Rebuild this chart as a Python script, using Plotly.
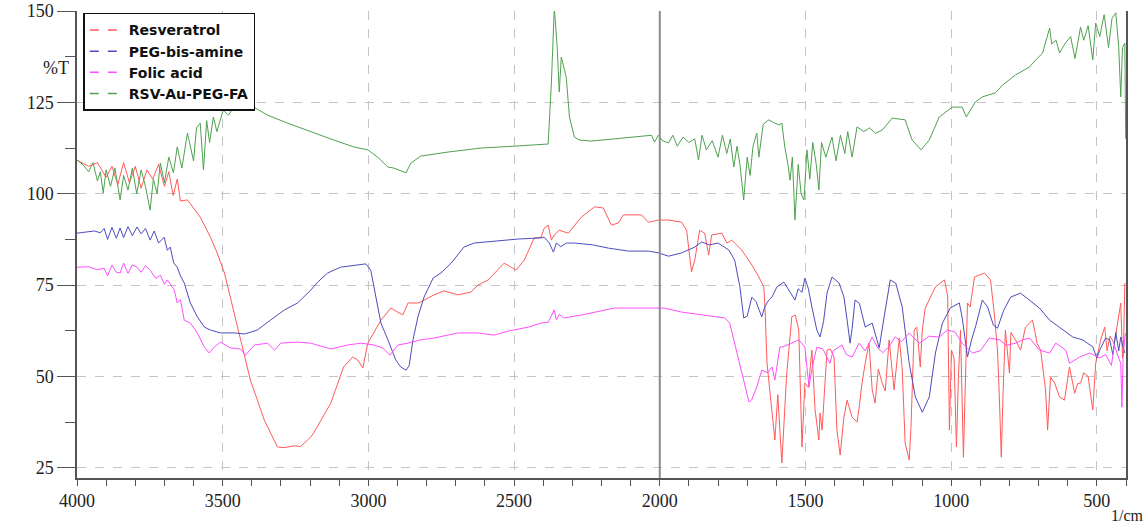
import plotly.graph_objects as go

# FTIR spectra, wavenumber (1/cm) and transmittance (%T)
rsv_wn = [4000, 3960, 3930, 3900, 3880, 3860, 3840, 3820, 3800, 3780, 3760, 3740, 3720, 3700, 3685,
          3670, 3656, 3645, 3621, 3600, 3577, 3542, 3520, 3494, 3450, 3405, 3357, 3312, 3290, 3253,
          3233, 3198, 3188, 3160, 3129, 3085, 3054, 3037, 3019, 3002, 2957, 2923, 2882, 2864, 2827,
          2775, 2741, 2692, 2648, 2624, 2589, 2534, 2493, 2465, 2431, 2407, 2397, 2383, 2372, 2362,
          2345, 2314, 2269, 2224, 2194, 2166, 2142, 2125, 2063, 2039, 2004, 1970, 1925, 1908, 1891,
          1880, 1863, 1846, 1832, 1822, 1787, 1770, 1753, 1719, 1684, 1660, 1643, 1639, 1632, 1605,
          1595, 1581, 1565, 1547, 1535, 1523, 1512, 1502, 1490, 1478, 1467, 1454, 1450, 1443, 1426,
          1415, 1402, 1392, 1381, 1368, 1357, 1340, 1330, 1323, 1315, 1306, 1295, 1282, 1271, 1261,
          1250, 1237, 1226, 1213, 1196, 1178, 1168, 1158, 1144, 1138, 1127, 1118, 1106, 1099, 1089,
          1054, 1023, 1012, 1006, 999, 990, 982, 975, 968, 958, 950, 944, 935, 920, 886, 865, 852,
          841, 835, 828, 822, 814, 800, 795, 779, 762, 745, 721, 712, 705, 693, 676, 669, 659, 645,
          628, 611, 594, 576, 566, 556, 545, 530, 514, 504, 487, 473, 465, 455, 440, 430, 418, 412,
          408, 404]
rsv_t = [109.2, 107.5, 108.5, 104.5, 107.5, 102.5, 108.5, 103, 107.5, 101.5, 106.5, 104, 108, 102, 106,
         99.5, 104, 98, 98.3, 96, 93.6, 88.1, 84, 78.3, 63.5, 49, 38, 30.7, 30.5, 31,
         30.8, 33.4, 34.5, 38.5, 42.7, 52.6, 55.3, 54.5, 52.3, 59.1, 65.4, 68.7, 66.8, 70.1, 70.1,
         72.3, 73.4, 72.3, 73.1, 75, 76.4, 81, 79.1, 81.8, 87.9, 88.1, 90.5, 91.4, 87.3, 88.7,
         90, 89.2, 93.6, 96.4, 96.1, 91.4, 92, 94.2, 94.2, 92.2, 92.8, 92.8, 92.2, 90, 78.6,
         81.8, 90, 89.2, 83.2, 88.7, 89.2, 86.5, 87.3, 84.6, 80.5, 77.2, 74.5, 69, 53.6, 32.6,
         45, 26.3, 50, 66.3, 66.8, 62.7, 30.7, 48.2, 47, 57.2, 40.8, 32.6, 40, 35.3, 57.2,
         57.5, 55.3, 35.3, 28.5, 38.9, 43.5, 38.9, 38, 37.5, 42, 48.2, 53.6, 59.1, 46.3, 42.7,
         52, 48.2, 46, 60, 46.3, 60.5, 52, 31.8, 27.1, 36, 62.7, 63.5, 52.6, 62.7, 68.7,
         74.5, 76.4, 72, 35.3, 57.2, 55, 30.7, 50, 62.7, 27.9, 50, 70.1, 69, 77.2, 78.3, 76.4, 67.3,
         57.2, 45, 27.9, 45, 62.7, 50.9, 62, 60, 57.2, 63.5, 65.4, 62, 59, 57.2, 46.3, 35.3, 49.8, 48.2,
         44.4, 43.5, 52.6, 45.4, 48, 48.2, 51, 50, 40.8, 53.6, 60, 63.5, 57, 61, 59, 64, 70.1, 55,
         60, 75.5]

peg_wn = [4000, 3970, 3940, 3920, 3907, 3895, 3880, 3865, 3852, 3840, 3825, 3810, 3794, 3780, 3765,
          3749, 3735, 3720, 3701, 3690, 3680, 3668, 3656, 3645, 3632, 3611, 3587, 3563, 3542, 3508,
          3460, 3425, 3381, 3336, 3288, 3243, 3198, 3174, 3140, 3095, 3037, 3009, 2992, 2975, 2957,
          2933, 2906, 2889, 2871, 2860, 2847, 2830, 2809, 2778, 2751, 2716, 2672, 2637, 2544, 2486,
          2407, 2397, 2379, 2365, 2355, 2340, 2320, 2293, 2230, 2176, 2107, 2039, 2004, 1970, 1925,
          1880, 1856, 1830, 1800, 1763, 1743, 1725, 1712, 1700, 1684, 1670, 1650, 1640, 1626, 1615,
          1598, 1574, 1560, 1536, 1525, 1512, 1502, 1490, 1478, 1461, 1450, 1438, 1426, 1409, 1385,
          1368, 1357, 1347, 1340, 1330, 1315, 1295, 1271, 1247, 1230, 1209, 1190, 1168, 1144, 1123,
          1099, 1075, 1054, 1030, 1003, 972, 962, 944, 930, 915, 893, 875, 855, 841, 820,
          796, 762, 731, 697, 662, 628, 583, 549, 514, 500, 490, 470, 456, 445, 435,
          425, 418, 410, 404]
peg_t = [89.2, 89.5, 89.8, 89.3, 90.5, 87.5, 90.8, 87.8, 90.6, 88, 91, 88.5, 90.9, 89, 90.5,
         87.3, 89.8, 86.5, 88.1, 84.5, 85.4, 81, 79.9, 77.5, 75.6, 70.1, 66.3, 63.5, 62.7, 61.9,
         61.9, 61.6, 62.7, 65.4, 68.2, 70.1, 73.6, 75.8, 78.3, 79.9, 80.5, 80.8, 79.1, 71.7, 64.6,
         60, 54.5, 52.6, 51.7, 53, 60, 66.3, 71.7, 76.9, 78.3, 81, 85.4, 86.5, 87.3, 87.6,
         87.9, 88.1, 86.5, 84, 86.5, 85.5, 86.5, 86.5, 86, 85.1, 84.3, 84.3, 83.8, 82.9, 83.8,
         85.4, 86.8, 86, 86.5, 84.6, 81.8, 74.5, 66, 66.5, 71.7, 70.5, 66.3, 69, 70.9, 71.7,
         74.5, 75.8, 74, 70.9, 74, 73, 76.9, 74, 69, 62.7, 60.8, 65, 72.8, 77.2, 75.6,
         71.7, 65.4, 59.1, 63, 70.9, 70, 63.5, 64.6, 57.8, 66.3, 76.4, 75.5, 69, 53.6, 44.4,
         40.2, 44.4, 56.4, 64.6, 68.7, 70.1, 66, 55.3, 60, 64, 70.9, 69, 64, 63.2, 68,
         71.7, 72.8, 70.9, 68.7, 65.4, 63.5, 60.8, 60, 58.1, 55, 57.2, 60.5, 60, 56, 62,
         57, 60.8, 58, 56.4]

fa_wn = [4000, 3960, 3930, 3907, 3895, 3880, 3865, 3852, 3840, 3825, 3810, 3794, 3780, 3765, 3749,
         3730, 3714, 3700, 3690, 3666, 3656, 3645, 3632, 3611, 3587, 3563, 3546, 3529, 3508, 3474,
         3439, 3422, 3391, 3346, 3322, 3301, 3243, 3198, 3129, 3071, 3026, 2981, 2951, 2926, 2899,
         2864, 2820, 2775, 2692, 2624, 2569, 2520, 2451, 2407, 2383, 2370, 2362, 2355, 2345, 2330,
         2269, 2156, 2039, 1984, 1925, 1856, 1777, 1760, 1743, 1719, 1694, 1685, 1667, 1650, 1630,
         1615, 1605, 1588, 1581, 1550, 1523, 1502, 1488, 1478, 1461, 1440, 1416, 1405, 1375, 1360,
         1340, 1316, 1295, 1271, 1254, 1235, 1215, 1192, 1170, 1144, 1110, 1075, 1041, 1013, 986,
         962, 927, 900, 869, 834, 810, 779, 755, 731, 697, 662, 641, 607, 594, 559,
         525, 490, 470, 450, 440, 425, 418, 414, 410, 404, 400]
fa_t = [79.9, 80, 79.2, 79.6, 77.5, 80.5, 78.5, 78.3, 81, 78.2, 80.5, 79.9, 78.5, 80.3, 79.1,
        76.8, 77.7, 75.2, 76.4, 73.6, 70.1, 71, 65.4, 64.6, 61.9, 58, 56.4, 58, 59.4, 57.8,
        57.5, 55.8, 58.6, 59.1, 57.2, 59.1, 59.4, 59.1, 57.5, 58.6, 59.1, 58.6, 57.8, 55.8, 58.6,
        59.1, 60, 60.5, 61.9, 61.9, 61.3, 62.4, 63.5, 64.6, 64.8, 67, 68.2, 65.5, 67, 66,
        66.8, 68.7, 68.7, 68.7, 67.6, 66.8, 66, 64.6, 59.1, 50.9, 43, 43.5, 47.1, 51.7, 51,
        52.6, 49, 58, 58, 59, 60, 58, 47.1, 52, 58, 57.5, 53.6, 57, 58.6, 56,
        55.3, 59.1, 57, 60.8, 58, 56.5, 58, 60.8, 59.5, 61.9, 59.1, 61, 60.8, 62.7, 62.1,
        59.1, 56.4, 57, 60.5, 60, 58.5, 59.1, 60, 60.5, 57.2, 56.4, 59.1, 57.2, 53.6, 55.3,
        56.4, 55.1, 56, 53, 58.5, 55, 53.6, 41.6, 55, 60.8, 62]

np_wn = [4000, 3980, 3960, 3945, 3930, 3920, 3910, 3900, 3885, 3870, 3852, 3840, 3825, 3810, 3795,
         3780, 3765, 3749, 3738, 3725, 3714, 3700, 3685, 3669, 3656, 3640, 3621, 3600, 3590, 3577,
         3566, 3555, 3545, 3532, 3520, 3498, 3480, 3463, 3440, 3415, 3394, 3346, 3277, 3198, 3119,
         3050, 3002, 2968, 2933, 2912, 2871, 2854, 2820, 2727, 2613, 2500, 2383, 2372, 2362, 2352,
         2345, 2338, 2321, 2310, 2293, 2276, 2235, 2156, 2087, 2039, 2028, 2018, 2005, 1990, 1970,
         1955, 1940, 1920, 1900, 1880, 1867, 1855, 1840, 1820, 1800, 1785, 1770, 1758, 1746, 1735,
         1725, 1712, 1700, 1690, 1680, 1667, 1660, 1645, 1626, 1610, 1591, 1581, 1571, 1560, 1553,
         1545, 1536, 1525, 1515, 1505, 1495, 1485, 1475, 1463, 1454, 1445, 1430, 1409, 1395, 1380,
         1365, 1355, 1340, 1323, 1300, 1280, 1260, 1237, 1202, 1158, 1134, 1103, 1075, 1041, 996,
         962, 948, 917, 893, 848, 824, 779, 731, 710, 686, 676, 662, 655, 640, 628,
         610, 590, 575, 556, 545, 530, 514, 504, 490, 475, 460, 448, 435, 425, 418,
         412, 404, 401]
np_t = [109.2, 108, 106, 108.5, 103.5, 106, 100.2, 106.5, 102, 107, 98.3, 105, 101, 107, 100,
        106.5, 102, 95.5, 104, 100, 108.4, 103, 110, 105.7, 112.8, 107, 116.6, 109, 118, 119.3,
        106.5, 120, 114, 121, 117, 122.9, 121.5, 123.7, 123.2, 124, 123.7, 121.5, 119.3, 116.9, 114.7,
        112.8, 112, 110, 107.3, 107, 105.7, 108.4, 110.3, 111.4, 112.5, 113, 113.6, 130.3, 151, 140,
        127.8, 137.4, 131.9, 121, 115.5, 114.7, 114.4, 115, 115.5, 115.8, 116, 114.1, 116, 114.5, 113.9,
        116, 113, 115.5, 114, 115, 109.2, 116, 112, 114.5, 110, 116, 111, 115, 107.3, 113,
        108, 98.3, 110, 105, 113, 116.6, 110, 119, 120.2, 119.5, 118.8, 119.3, 112.8, 108, 103.7,
        110, 92.8, 108, 100, 98.3, 112, 104, 114, 108, 101, 114, 110, 115.5, 109, 116,
        111, 117, 110, 118.3, 117, 118, 116.5, 117.4, 120.7, 120.2, 114.7, 112, 114.7, 121, 123.7,
        123.7, 121, 125.1, 126.5, 127.6, 129.7, 132.5, 134.7, 136.6, 138.5, 141.5, 145.3, 141, 142, 138.5,
        141, 143, 137, 145.6, 142, 146, 136.6, 146.7, 143, 149, 140, 148, 149.5, 140, 126.5,
        140, 141.2, 115]

names = ["Resveratrol", "PEG-bis-amine", "Folic acid", "RSV-Au-PEG-FA"]
colors = ["#ff5a5a", "#4d4dbd", "#ff4dff", "#4fa24f"]
series = [(rsv_wn, rsv_t), (peg_wn, peg_t), (fa_wn, fa_t), (np_wn, np_t)]

fig = go.Figure()
for (wn, t), name, c in zip(series, names, colors):
    fig.add_trace(go.Scatter(x=wn, y=t, mode="lines", name=name, showlegend=False,
                             line=dict(color=c, width=1)))
# legend shows dashed samples like the original software
for name, c in zip(names, colors):
    fig.add_trace(go.Scatter(x=[None], y=[None], mode="lines", name=name,
                             line=dict(color=c, width=1.5, dash="dash")))

# solid marker line at 2000 1/cm
fig.add_shape(type="line", x0=2000, x1=2000, y0=0, y1=1, yref="paper",
              line=dict(color="#8c8c8c", width=2))

fig.add_annotation(text="%T", x=-0.034, y=0.904, xref="paper", yref="paper",
                   showarrow=False, font=dict(family="Liberation Serif", size=18, color="#222"))
# unit label sits right of the 500 tick label so the two do not collide
fig.add_annotation(text="1/cm", x=1.019, y=-0.081, xref="paper", yref="paper",
                   xanchor="right", yanchor="middle",
                   showarrow=False, font=dict(family="Liberation Serif", size=16, color="#222"))

tick_font = dict(family="Liberation Serif", size=18, color="#222")
fig.update_xaxes(range=[4000, 400], tickvals=[4000, 3500, 3000, 2500, 2000, 1500, 1000, 500],
                 ticks="outside", ticklen=6, tickcolor="#555", tickfont=tick_font,
                 showline=True, linecolor="#555", linewidth=1.5, automargin=False,
                 showgrid=True, gridcolor="#c4c4c4", griddash="dash", gridwidth=1,
                 minor=dict(dtick=100, tick0=0, ticks="outside", ticklen=6, tickcolor="#555",
                            showgrid=False),
                 zeroline=False)
fig.update_yaxes(range=[22.2, 150], tickvals=[25, 50, 75, 100, 125, 150],
                 ticks="outside", ticklen=18, tickcolor="#555", tickfont=tick_font,
                 showline=True, linecolor="#555", linewidth=1.5, mirror=True, automargin=False,
                 ticklabeloverflow="allow",
                 showgrid=True, gridcolor="#c4c4c4", griddash="dash", gridwidth=1,
                 minor=dict(dtick=12.5, tick0=25, ticks="outside", ticklen=10, tickcolor="#555",
                            showgrid=False),
                 zeroline=False)

fig.update_layout(
    width=1148, height=527,
    margin=dict(l=77, r=22, t=11, b=49, autoexpand=False),
    plot_bgcolor="white", paper_bgcolor="white",
    legend=dict(x=0.006, y=0.996, xanchor="left", yanchor="top",
                bgcolor="white", bordercolor="#111", borderwidth=1.5,
                font=dict(family="DejaVu Sans", size=14, color="#111", weight="bold"),
                itemwidth=34, tracegroupgap=0),
)

# drop the default body margin so the figure fills the window exactly
fig.write_html("out.html", config={"displayModeBar": False},
               post_script="document.body.style.margin = '0px';")
